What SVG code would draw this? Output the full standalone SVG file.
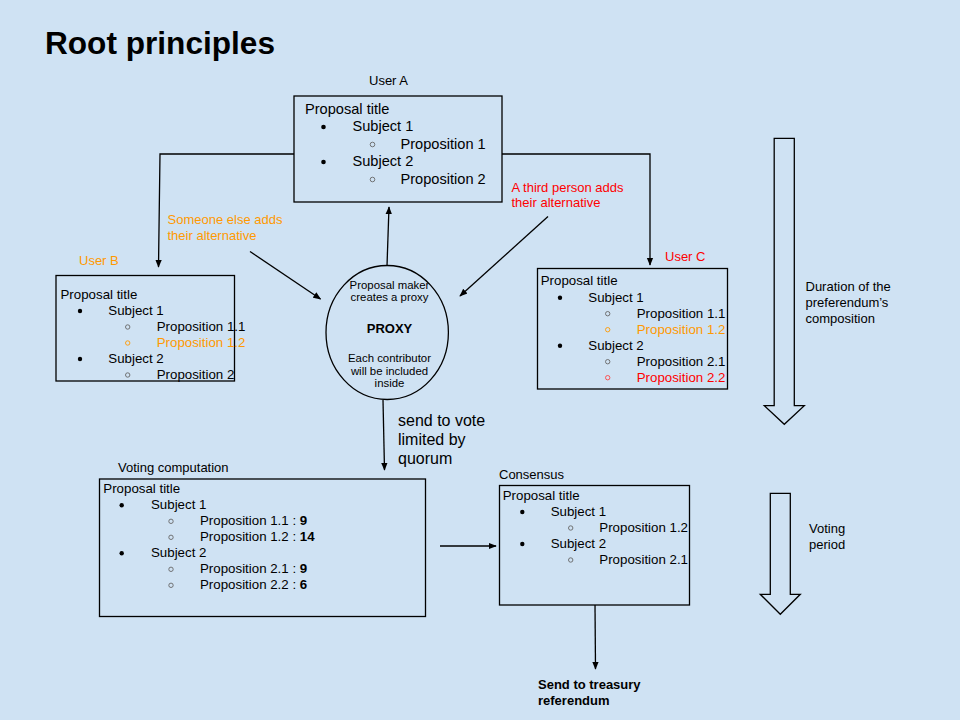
<svg xmlns="http://www.w3.org/2000/svg" width="960" height="720" viewBox="0 0 960 720">
<defs>
<style>
text{font-family:"Liberation Sans",Arial,sans-serif;fill:#000}
.box{fill:none;stroke:#000;stroke-width:1.3}
.t13{font-size:13.3px}
.t14{font-size:14.6px}
.lbl{font-size:13px}
.or{fill:#ff9900}
.rd{fill:#ff0000}
.b{font-weight:bold}
.dot{fill:#000}
.hol{fill:none;stroke:#666;stroke-width:0.9}
.hol.o{stroke:#ff9900}
.hol.r{stroke:#ff4444}
.con{fill:none;stroke:#000;stroke-width:1.3}
.big{fill:none;stroke:#000;stroke-width:1.3}
</style>
<marker id="ah" viewBox="0 0 10 10" refX="9" refY="5" markerWidth="8" markerHeight="8" markerUnits="userSpaceOnUse" orient="auto">
<path d="M0,1 L10,5 L0,9 z" fill="#000"/>
</marker>
</defs>
<rect x="0" y="0" width="960" height="720" fill="#cfe2f3"/>
<text x="45" y="54" class="b" style="font-size:31.6px">Root principles</text>

<g id="connectors">
<path class="con" d="M294,154 H160 L158.5,267" marker-end="url(#ah)"/>
<path class="con" d="M502,154 H650 V265" marker-end="url(#ah)"/>
<line class="con" x1="387" y1="266" x2="389" y2="207" marker-end="url(#ah)"/>
<line class="con" x1="250" y1="251.5" x2="320.5" y2="299" marker-end="url(#ah)"/>
<line class="con" x1="548" y1="216.5" x2="460" y2="296" marker-end="url(#ah)"/>
<line class="con" x1="383" y1="400" x2="384.5" y2="470" marker-end="url(#ah)"/>
<line class="con" x1="440" y1="546" x2="496" y2="546" marker-end="url(#ah)"/>
<line class="con" x1="595" y1="605" x2="595.5" y2="669" marker-end="url(#ah)"/>
</g>

<g id="labels">
<text x="167.5" y="224" class="lbl or">Someone else adds</text>
<text x="167.5" y="240" class="lbl or">their alternative</text>
<text x="511.5" y="191.5" class="lbl rd">A third person adds</text>
<text x="511.5" y="207" class="lbl rd">their alternative</text>
<text x="398" y="426" style="font-size:16px">send to vote</text>
<text x="398" y="445" style="font-size:16px">limited by</text>
<text x="398" y="464" style="font-size:16px">quorum</text>
<text x="538" y="689" class="lbl b">Send to treasury</text>
<text x="538" y="705" class="lbl b">referendum</text>
</g>

<g id="userA">
<text x="369" y="85" class="lbl">User A</text>
<rect class="box" x="294" y="96" width="208" height="106"/>
<text x="305" y="113.5" class="t14">Proposal title</text>
<circle class="dot" cx="323.5" cy="127" r="2.3"/>
<text x="352.5" y="131" class="t14">Subject 1</text>
<circle class="hol" cx="372.5" cy="144.5" r="2.3"/>
<text x="400.5" y="148.5" class="t14">Proposition 1</text>
<circle class="dot" cx="323.5" cy="162" r="2.3"/>
<text x="352.5" y="166" class="t14">Subject 2</text>
<circle class="hol" cx="372.5" cy="179.5" r="2.3"/>
<text x="400.5" y="183.5" class="t14">Proposition 2</text>
</g>

<g id="userB">
<text x="79" y="265" class="lbl or">User B</text>
<rect class="box" x="56" y="275.5" width="178.5" height="105.5"/>
<text x="60.5" y="298.5" class="t13">Proposal title</text>
<circle class="dot" cx="80" cy="311" r="2.2"/>
<text x="108.3" y="315" class="t13">Subject 1</text>
<circle class="hol" cx="127.7" cy="327" r="2.2"/>
<text x="156.7" y="331" class="t13">Proposition 1.1</text>
<circle class="hol o" cx="127.7" cy="343" r="2.2"/>
<text x="156.7" y="347" class="t13 or">Proposition 1.2</text>
<circle class="dot" cx="80" cy="359" r="2.2"/>
<text x="108.3" y="363" class="t13">Subject 2</text>
<circle class="hol" cx="127.7" cy="375" r="2.2"/>
<text x="156.7" y="379" class="t13">Proposition 2</text>
</g>

<g id="proxy">
<ellipse class="box" cx="387.2" cy="332.5" rx="61.2" ry="67"/>
<g text-anchor="middle" style="font-size:11.4px">
<text x="389.5" y="288.5">Proposal maker</text>
<text x="389.5" y="301">creates a proxy</text>
<text x="389.5" y="332.5" class="b" style="font-size:13px">PROXY</text>
<text x="389.5" y="362">Each contributor</text>
<text x="389.5" y="374.5">will be included</text>
<text x="389.5" y="387">inside</text>
</g>
</g>

<g id="userC">
<text x="665" y="261" class="lbl rd">User C</text>
<rect class="box" x="537.5" y="268.5" width="190" height="120.5"/>
<text x="540.7" y="285" class="t13">Proposal title</text>
<circle class="dot" cx="560" cy="297.7" r="2.2"/>
<text x="588.3" y="301.7" class="t13">Subject 1</text>
<circle class="hol" cx="607.7" cy="313.7" r="2.2"/>
<text x="636.7" y="317.7" class="t13">Proposition 1.1</text>
<circle class="hol o" cx="607.7" cy="329.7" r="2.2"/>
<text x="636.7" y="333.7" class="t13 or">Proposition 1.2</text>
<circle class="dot" cx="560" cy="345.7" r="2.2"/>
<text x="588.3" y="349.7" class="t13">Subject 2</text>
<circle class="hol" cx="607.7" cy="361.7" r="2.2"/>
<text x="636.7" y="365.7" class="t13">Proposition 2.1</text>
<circle class="hol r" cx="607.7" cy="377.7" r="2.2"/>
<text x="636.7" y="381.7" class="t13 rd">Proposition 2.2</text>
</g>

<g id="voting">
<text x="118" y="472" class="lbl">Voting computation</text>
<rect class="box" x="99.5" y="479" width="326" height="137.5"/>
<text x="103.3" y="493.3" class="t13">Proposal title</text>
<circle class="dot" cx="121.7" cy="505.3" r="2.2"/>
<text x="151" y="509.3" class="t13">Subject 1</text>
<circle class="hol" cx="171" cy="521.3" r="2.2"/>
<text x="200" y="525.3" class="t13">Proposition 1.1 : <tspan class="b">9</tspan></text>
<circle class="hol" cx="171" cy="537.3" r="2.2"/>
<text x="200" y="541.3" class="t13">Proposition 1.2 : <tspan class="b">14</tspan></text>
<circle class="dot" cx="121.7" cy="553.3" r="2.2"/>
<text x="151" y="557.3" class="t13">Subject 2</text>
<circle class="hol" cx="171" cy="569.3" r="2.2"/>
<text x="200" y="573.3" class="t13">Proposition 2.1 : <tspan class="b">9</tspan></text>
<circle class="hol" cx="171" cy="585.3" r="2.2"/>
<text x="200" y="589.3" class="t13">Proposition 2.2 : <tspan class="b">6</tspan></text>
</g>

<g id="consensus">
<text x="499" y="478.5" class="lbl">Consensus</text>
<rect class="box" x="499.5" y="485.5" width="190" height="119.5"/>
<text x="502.7" y="500" class="t13">Proposal title</text>
<circle class="dot" cx="522.3" cy="512" r="2.2"/>
<text x="550.7" y="516" class="t13">Subject 1</text>
<circle class="hol" cx="570.7" cy="528" r="2.2"/>
<text x="599.3" y="532" class="t13">Proposition 1.2</text>
<circle class="dot" cx="522.3" cy="544" r="2.2"/>
<text x="550.7" y="548" class="t13">Subject 2</text>
<circle class="hol" cx="570.7" cy="560" r="2.2"/>
<text x="599.3" y="564" class="t13">Proposition 2.1</text>
</g>

<g id="duration">
<path class="big" d="M774.2,138.3 H794.3 V405.7 H804.3 L784.3,424.3 L764.3,405.7 H774.2 Z"/>
<text x="805.5" y="290.7" class="lbl">Duration of the</text>
<text x="805.5" y="306.7" class="lbl">preferendum’s</text>
<text x="805.5" y="322.7" class="lbl">composition</text>
</g>

<g id="votingPeriod">
<path class="big" d="M770.3,493.3 H790.3 V594.3 H800.3 L780.3,614.3 L760.3,594.3 H770.3 Z"/>
<text x="809" y="532.7" class="lbl">Voting</text>
<text x="809" y="548.5" class="lbl">period</text>
</g>
</svg>
